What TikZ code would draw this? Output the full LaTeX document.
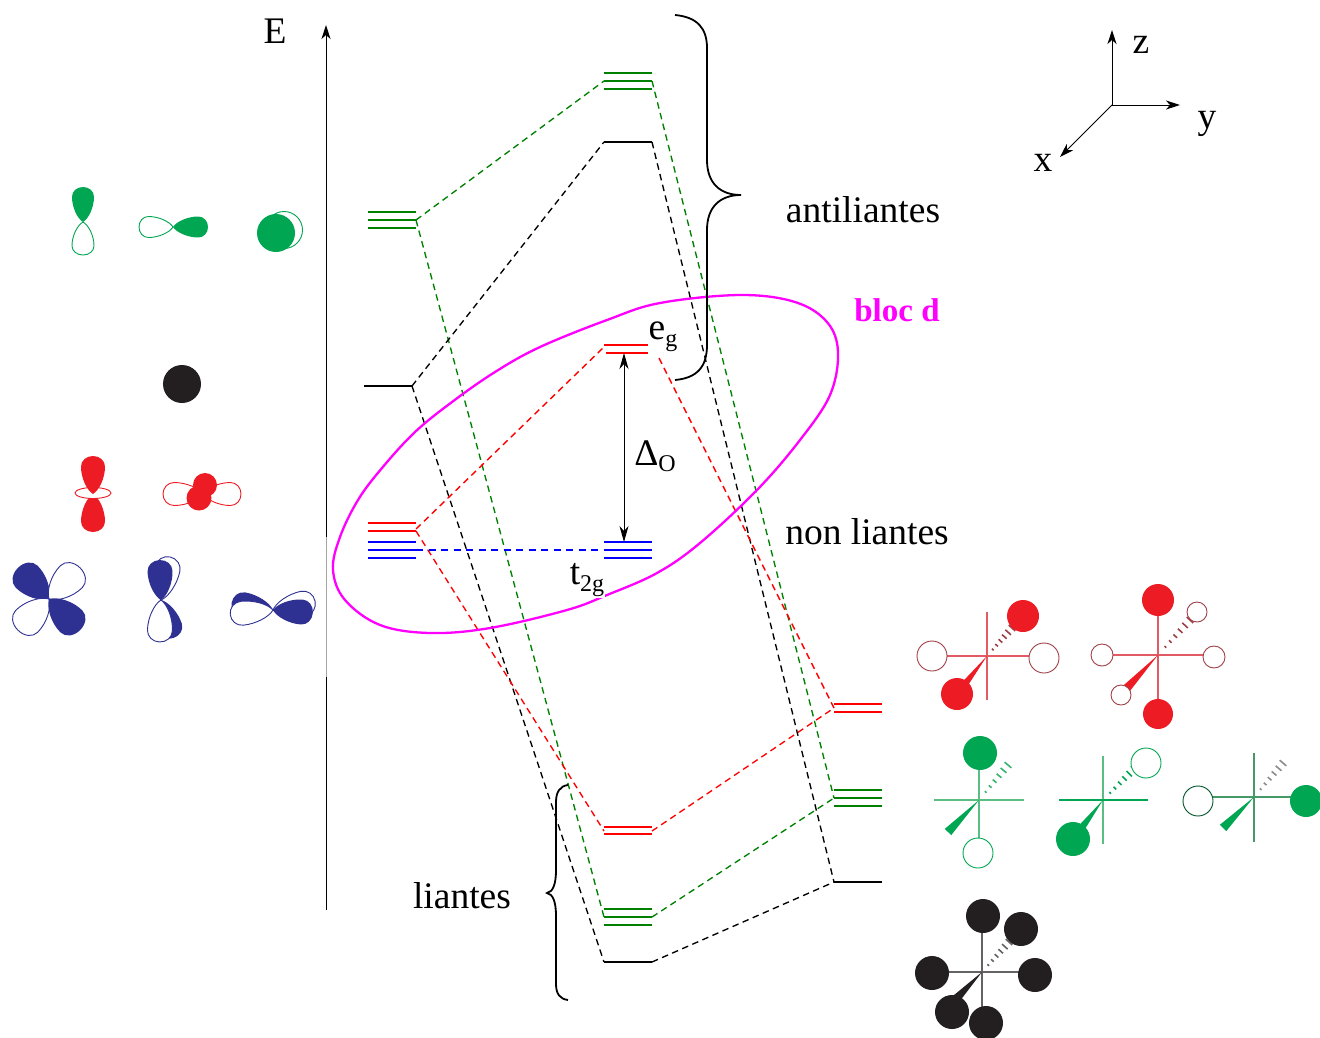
\documentclass[tikz,border=0pt]{standalone}
\usepackage{fontspec}
\setmainfont{Liberation Serif}
\usetikzlibrary{arrows.meta}
\definecolor{lgreen}{RGB}{0,128,0}
\definecolor{orbgreen}{RGB}{0,166,81}
\definecolor{orbred}{RGB}{237,28,36}
\definecolor{orbblue}{RGB}{46,49,146}
\definecolor{orbblack}{RGB}{35,31,32}
\definecolor{linkred}{RGB}{226,90,100}
\definecolor{linkgreen}{RGB}{90,190,130}
\definecolor{pureM}{RGB}{255,0,255}
\definecolor{pureR}{RGB}{255,0,0}
\definecolor{pureB}{RGB}{0,0,255}
\newcommand\txtsz[1]{\fontsize{#1}{#1}\selectfont}
\newcommand\lobepath{(0,0) .. controls (.1,.26) and (.42,.5) .. (.72,.5) .. controls (.88,.5) and (1,.28) .. (1,0) .. controls (1,-.28) and (.88,-.5) .. (.72,-.5) .. controls (.42,-.5) and (.1,-.26) .. (0,0) -- cycle}
% \lobe{x}{y}{angle}{length}{width}{style}
\newcommand\lobe[6]{\begin{scope}[shift={(#1,#2)},rotate=#3,xscale=#4,yscale=#5]\path[#6] \lobepath;\end{scope}}
% \wedgeb{cx}{cy}{ex}{ey}{colour}
\newcommand\wedgeb[5]{\pgfmathsetmacro\wa{atan2(-(#4-#2),#3-#1)}\pgfmathsetmacro\wl{veclen(#3-#1,#4-#2)}%
\begin{scope}[shift={(#1,#2)},rotate=\wa]\fill[#5] (0,0) -- (\wl,4.5) -- (\wl,-4.5) -- cycle;\end{scope}}
% \hashb{cx}{cy}{ex}{ey}{colour}
\newcommand\hashb[5]{\pgfmathsetmacro\wa{atan2(-(#4-#2),#3-#1)}\pgfmathsetmacro\wl{veclen(#3-#1,#4-#2)}%
\begin{scope}[shift={(#1,#2)},rotate=\wa]\foreach \k in {1,...,6}{\pgfmathsetmacro\hx{\wl*(\k+.5)/6.5}\pgfmathsetmacro\hy{.5+\k*.65}\draw[#5,line width=1.6pt] (\hx,\hy) -- (\hx,-\hy);}\end{scope}}
\tikzset{
  x=1pt,y=-1pt,
  level/.style={line width=1.4pt},
  dashlink/.style={line width=1.35pt,dash pattern=on 6.5pt off 4.5pt},
  brace/.style={line width=1.8pt,black},
  axisarrow/.style={line width=1pt,-{Stealth[length=14pt,width=9pt,inset=4pt]}},
  lbl/.style={font=\txtsz{37.5},inner sep=0pt,text=black},
  holl/.style={draw=#1,fill=white,line width=.9pt},
  fil/.style={fill=#1}
}
\begin{document}
\begin{tikzpicture}
\useasboundingbox (0,0) rectangle (1320,1037);
% level anchors
\coordinate (gL) at (416,220); \coordinate (gT) at (604,81); \coordinate (gTr) at (652,81);
\coordinate (gB) at (604,917); \coordinate (gBr) at (652,917); \coordinate (gR) at (834,798);
\coordinate (kL) at (412,386); \coordinate (kT) at (604,142); \coordinate (kTr) at (652,142);
\coordinate (kB) at (604,962); \coordinate (kBr) at (652,962); \coordinate (kR) at (834,882);
\coordinate (rL) at (416,529); \coordinate (rT) at (604,347); \coordinate (rTr) at (659,358);
\coordinate (rLb) at (416,531);
\coordinate (rB) at (604,831); \coordinate (rBr) at (652,831); \coordinate (rR) at (834,708);
\coordinate (bL) at (416,550); \coordinate (bT) at (604,550);
% energy axis
\draw[line width=1pt,black] (326,910) -- (326,677);
\draw[line width=.6pt,black!35] (326,677) -- (326,537);
\draw[axisarrow] (326,537) -- (326,25);
\node[lbl] (E) at (275,31) {E};
% dashed links
\draw[dashlink,lgreen] (gL) -- (gT) (gTr) -- (gR) (gL) -- (gB) (gBr) -- (gR);
\draw[dashlink,black] (kL) -- (kT) (kTr) -- (kR) (kL) -- (kB) (kBr) -- (kR);
\draw[dashlink,pureR] (rL) -- (rT) (rTr) -- (rR) (rLb) -- (rB) (rBr) -- (rR);
\draw[dashlink,pureB,dash pattern=on 7pt off 5.5pt] (bL) -- (bT);
% levels
\foreach \xa/\xb/\ya in {368/416/212,368/416/220,368/416/228,604/652/73,604/652/81,604/652/89,604/652/909,604/652/917,604/652/925,834/882/790,834/882/798,834/882/806}
  \draw[level,lgreen] (\xa,\ya) -- (\xb,\ya);
\foreach \xa/\xb/\ya in {604/652/142,364/412/386,604/652/962,834/882/882}
  \draw[level,black] (\xa,\ya) -- (\xb,\ya);
\foreach \xa/\xb/\ya in {368/416/523,368/416/531,604/648/345,606/648/353,604/652/827,604/652/834,834/882/704,834/882/712}
  \draw[level,pureR] (\xa,\ya) -- (\xb,\ya);
% bloc d
\draw[pureM,line width=2.3pt,line join=round] plot[smooth cycle,tension=.6] coordinates {
 (333,570) (340,537) (358,500) (382,468) (415,432) (452,402) (495,372) (540,347) (607,320)
 (660,303) (740,295) (795,302) (827,322) (838,352) (830,395) (800,440) (757,490) (700,543)
 (657,573) (607,595) (567,610) (490,628) (430,633) (380,625) (345,600)};
\node[font=\txtsz{33}\bfseries,text=pureM,inner sep=0pt] (blocd) at (897,310) {bloc d};
\node[lbl,fill=white,inner sep=1pt] (t2g) at (587,580) {t\raisebox{-7pt}{\txtsz{24}2g}};
\foreach \xa/\xb/\ya in {368/416/542,368/416/550,368/416/558,604/652/542,604/652/550,604/652/558}
  \draw[level,pureB] (\xa,\ya) -- (\xb,\ya);
\coordinate (dTop) at (624,353); \coordinate (dBot) at (624,542);
\draw[line width=1pt,{Stealth[length=16pt,width=9pt,inset=5pt]}-{Stealth[length=16pt,width=9pt,inset=5pt]}] (dTop) -- (dBot);
\node[lbl] (delta) at (655,456) {Δ\raisebox{-6pt}{\txtsz{24}O}};
\node[lbl] (eg) at (663,337) {e\raisebox{-7pt}{\txtsz{24}g}};
% braces
\draw[brace] (675,15) .. controls (697,17) and (707,28) .. (707,48) -- (707,160) .. controls (707,183) and (720,195) .. (741,195) .. controls (720,195) and (707,207) .. (707,230) -- (707,345) .. controls (707,367) and (697,378) .. (675,380);
\draw[brace] (568,785) .. controls (560,786) and (556,792) .. (556,802) -- (556,870) .. controls (556,884) and (553,892) .. (547,893) .. controls (553,894) and (556,902) .. (556,916) -- (556,984) .. controls (556,994) and (560,999) .. (568,1000);
\node[lbl] (anti) at (863,210) {antiliantes};
\node[lbl] (nonl) at (867,532) {non liantes};
\node[lbl] (lia) at (462,896) {liantes};
% axes
\coordinate (O) at (1112,105);
\coordinate (Z) at (1112,30); \coordinate (Y) at (1180,105); \coordinate (X) at (1060,157);
\draw[axisarrow] (O) -- (Z);
\draw[axisarrow] (O) -- (Y);
\draw[axisarrow] (O) -- (X);
\node[lbl] (zl) at (1141,45) {z};
\node[lbl] (yl) at (1207,124) {y};
\node[lbl] (xl) at (1043,163) {x};
% green atomic orbitals
\lobe{83}{222}{90}{35}{22}{fill=orbgreen}
\lobe{83}{222}{-90}{33}{22}{holl=orbgreen}
\lobe{173}{227}{180}{34}{21}{holl=orbgreen}
\lobe{173}{227}{0}{35}{21}{fill=orbgreen}
\draw[holl=orbgreen] (284,230) circle (18.5);
\fill[orbgreen] (276,233) circle (19);
% black
\fill[orbblack] (182,384) circle (19);
% red
\lobe{93}{494}{-90}{38}{24}{fill=orbred}
\draw[holl=orbred] (93,493) ellipse (18 and 5.5);
\lobe{93}{494}{90}{38}{24}{fill=orbred}
\lobe{203}{494}{180}{40}{23}{holl=orbred}
\lobe{203}{494}{0}{38}{23}{holl=orbred}
\fill[orbred] (205,485) circle (12);
\fill[orbred] (199,498) circle (12.5);
% blue
\lobe{49}{599}{135}{44}{31}{fill=orbblue}
\lobe{49}{599}{45}{44}{31}{holl=orbblue}
\lobe{49}{599}{225}{44}{31}{holl=orbblue}
\lobe{49}{599}{-45}{44}{31}{fill=orbblue}
\lobe{161}{600}{-72}{40}{25}{fill=orbblue}
\lobe{161}{600}{78}{44}{25}{holl=orbblue}
\lobe{161}{600}{92}{40}{25}{fill=orbblue}
\lobe{161}{600}{-92}{42}{25}{holl=orbblue}
\lobe{273}{610}{170}{42}{25}{fill=orbblue}
\lobe{273}{610}{12}{43}{25}{holl=orbblue}
\lobe{273}{610}{186}{43}{24}{holl=orbblue}
\lobe{273}{610}{-4}{40}{25}{fill=orbblue}
% red MOs
\draw[linkred,line width=1.3pt] (987,612) -- (987,700) (932,656) -- (1044,656);
\hashb{987}{656}{1012}{628}{linkred!70!black}
\wedgeb{987}{656}{957}{694}{orbred}
\draw[holl=linkred!70!black] (932,656) circle (15);
\draw[holl=linkred!70!black] (1044,658) circle (15);
\fill[orbred] (1023,616) circle (16);
\fill[orbred] (957,694) circle (16);
\draw[linkred,line width=1.3pt] (1158,600) -- (1158,714) (1102,655) -- (1214,655);
\hashb{1158}{655}{1190}{620}{linkred!70!black}
\wedgeb{1158}{655}{1125}{690}{orbred}
\fill[orbred] (1158,600) circle (16);
\fill[orbred] (1158,714) circle (15);
\draw[holl=linkred!70!black] (1102,655) circle (11);
\draw[holl=linkred!70!black] (1214,657) circle (11);
\draw[holl=linkred!70!black] (1197,612) circle (10);
\draw[holl=linkred!70!black] (1121,695) circle (10);
% green MOs
\draw[linkgreen,line width=1.3pt] (979,753) -- (979,853) (934,800) -- (1024,800);
\hashb{979}{800}{1008}{765}{linkgreen!60!orbgreen}
\wedgeb{979}{800}{948}{832}{orbgreen}
\fill[orbgreen] (980,753) circle (17);
\draw[holl=orbgreen] (978,853) circle (15);
\draw[linkgreen,line width=1.3pt] (1103,756) -- (1103,844);
\draw[orbgreen,line width=1.3pt] (1059,800) -- (1148,800);
\hashb{1103}{800}{1134}{769}{orbgreen}
\wedgeb{1103}{800}{1076}{835}{orbgreen}
\draw[holl=orbgreen] (1146,763) circle (15);
\fill[orbgreen] (1073,839) circle (17);
\draw[linkgreen!80!black,line width=1.3pt] (1254,753) -- (1254,842) (1198,797) -- (1306,797);
\hashb{1254}{797}{1283}{763}{black!45}
\wedgeb{1254}{797}{1223}{828}{orbgreen}
\draw[holl=orbgreen!50!black] (1198,801) circle (15);
\fill[orbgreen] (1306,801) circle (16);
% black MO
\draw[orbblack!70,line width=1.5pt] (982,916) -- (982,1023) (932,972) -- (1035,972);
\hashb{982}{972}{1009}{942}{orbblack!70}
\wedgeb{982}{972}{955}{1000}{orbblack}
\fill[orbblack] (983,916) circle (17);
\fill[orbblack] (1021,929) circle (17);
\fill[orbblack] (932,973) circle (17);
\fill[orbblack] (1035,975) circle (17);
\fill[orbblack] (952,1012) circle (17);
\fill[orbblack] (986,1023) circle (17);
\end{tikzpicture}
\end{document}
